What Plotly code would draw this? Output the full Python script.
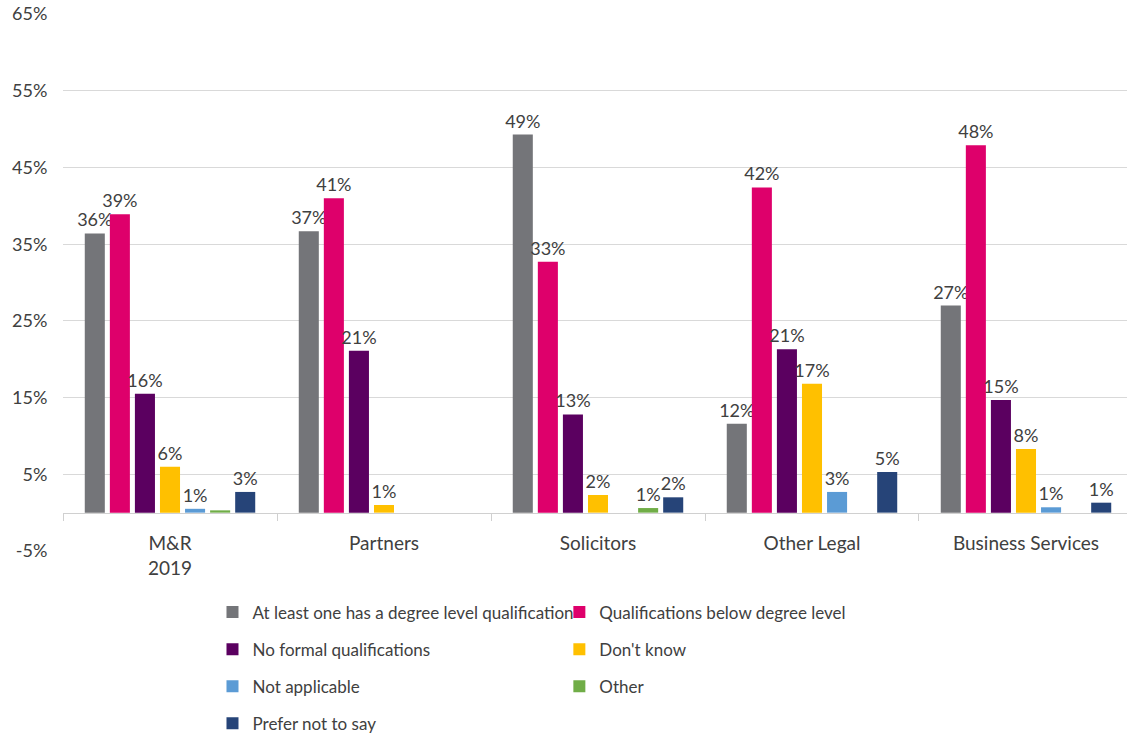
import plotly.graph_objects as go

categories = ["M&R<br>2019", "Partners", "Solicitors", "Other Legal", "Business Services"]

series_names = [
    "At least one has a degree level qualification",
    "Qualifications below degree level",
    "No formal qualifications",
    "Don't know",
    "Not applicable",
    "Other",
    "Prefer not to say",
]

degree = [36.4, 36.7, 49.3, 11.6, 27.0]
below_degree = [38.9, 41.0, 32.7, 42.4, 47.9]
no_formal = [15.5, 21.1, 12.8, 21.3, 14.7]
dont_know = [6.0, 1.0, 2.3, 16.8, 8.3]
not_applicable = [0.5, None, None, 2.7, 0.7]
other = [0.3, None, 0.6, None, None]
prefer_not = [2.7, None, 2.0, 5.3, 1.3]

degree_lbl = ["36%", "37%", "49%", "12%", "27%"]
below_degree_lbl = ["39%", "41%", "33%", "42%", "48%"]
no_formal_lbl = ["16%", "21%", "13%", "21%", "15%"]
dont_know_lbl = ["6%", "1%", "2%", "17%", "8%"]
not_applicable_lbl = ["1%", "", "", "3%", "1%"]
other_lbl = ["", "", "1%", "", ""]
prefer_not_lbl = ["3%", "", "2%", "5%", "1%"]

colors = ["#747579", "#DE006B", "#5B0060", "#FFC000", "#5B9BD5", "#70AD47", "#264478"]

y_ticks = [-5, 5, 15, 25, 35, 45, 55, 65]
y_tick_labels = ["-5%", "5%", "15%", "25%", "35%", "45%", "55%", "65%"]

values = [degree, below_degree, no_formal, dont_know, not_applicable, other, prefer_not]
labels = [degree_lbl, below_degree_lbl, no_formal_lbl, dont_know_lbl,
          not_applicable_lbl, other_lbl, prefer_not_lbl]

FONT = "Lato"
TXT = "#404040"

fig = go.Figure()
for i, (name, vals, lbl, col) in enumerate(zip(series_names, values, labels, colors)):
    fig.add_trace(go.Bar(
        x=categories, y=vals, name=name,
        marker=dict(color=col, line=dict(width=0)),
        text=lbl, textposition="outside", constraintext="none", cliponaxis=False,
        textfont=dict(family=FONT, size=18, color=TXT),
        legend="legend" if i % 2 == 0 else "legend2",
        legendgroup=f"g{i}",
    ))

fig.update_layout(
    width=1127, height=737,
    margin=dict(l=63, r=0, t=14, b=186, autoexpand=False),
    paper_bgcolor="white", plot_bgcolor="white",
    barmode="group", bargap=0.18, bargroupgap=0.2,
    font=dict(family=FONT, color=TXT),
    showlegend=True,
    legend=dict(x=0.1405, y=-0.081, xanchor="left", yanchor="top",
                orientation="v", tracegroupgap=12,
                font=dict(family=FONT, size=17, color=TXT), bgcolor="rgba(0,0,0,0)"),
    legend2=dict(x=0.4665, y=-0.081, xanchor="left", yanchor="top",
                 orientation="v", tracegroupgap=12,
                 font=dict(family=FONT, size=17, color=TXT), bgcolor="rgba(0,0,0,0)"),
    xaxis=dict(
        type="category", range=[-0.5, 4.472],
        anchor="free", position=5 / 70, automargin=False,
        showline=True, linecolor="#D0D0D0", linewidth=1,
        ticks="outside", tickson="boundaries", ticklen=7, tickcolor="#D0D0D0",
        showgrid=False, ticklabelstandoff=14,
        tickfont=dict(family=FONT, size=19, color=TXT),
    ),
    yaxis=dict(
        range=[-5, 65.01], tickvals=y_ticks, ticktext=y_tick_labels,
        showgrid=True, gridcolor="#D9D9D9", gridwidth=1,
        zeroline=False, showline=False, automargin=False,
        ticklabeloverflow="allow",
        ticks="outside", ticklen=11, tickcolor="rgba(0,0,0,0)",
        tickfont=dict(family=FONT, size=18, color=TXT),
    ),
)

fig.write_html(
    "out.html",
    config={"displayModeBar": False},
    post_script="document.body.style.margin='0';document.body.style.padding='0';",
)
